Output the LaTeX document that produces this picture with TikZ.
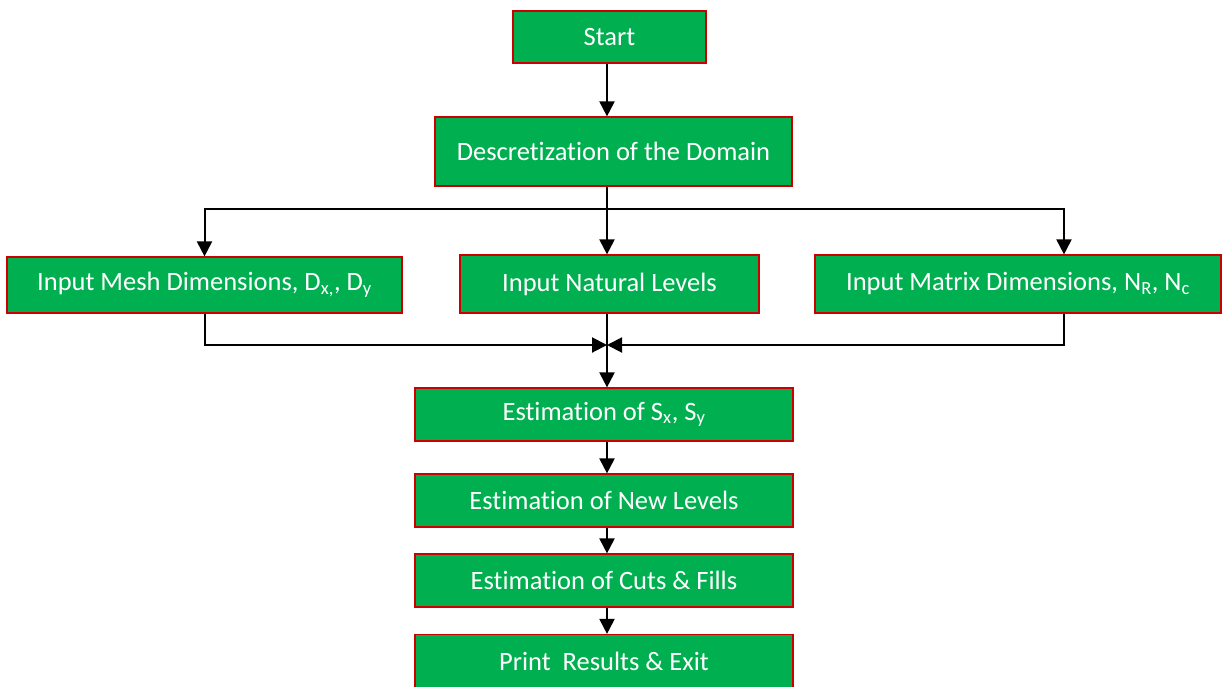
\documentclass[tikz,border=0pt]{standalone}
\usepackage{fontspec}
\setmainfont{Carlito}[Ligatures=CommonOff]
\usetikzlibrary{arrows.meta}
\definecolor{boxgreen}{RGB}{0,176,80}
\definecolor{boxred}{RGB}{204,0,0}
\tikzset{
  box/.style={draw=boxred, line width=1.2pt, fill=boxgreen, text=white,
    font=\fontsize{26.5}{30}\selectfont, inner sep=0pt},
  arr/.style={line width=2pt, -{Triangle[width=15pt,length=15pt]}},
  line/.style={line width=2pt}
}
\begin{document}
\begin{tikzpicture}[x=1pt,y=-1pt]
\useasboundingbox (0,0) rectangle (1222,686);
\node[box, minimum width=193pt, minimum height=52pt] (start) at (609.5,37) {Start};
\node[box, minimum width=357pt, minimum height=69pt] (disc) at (613.5,151.5) {Descretization of the Domain};
\node[box, minimum width=395pt, minimum height=56pt] (mesh) at (204.5,285) {Input Mesh Dimensions, D\textsubscript{x,}, D\textsubscript{y}};
\node[box, minimum width=299pt, minimum height=58pt] (natural) at (609.5,284) {Input Natural Levels};
\node[box, minimum width=406pt, minimum height=58pt] (matrix) at (1018,284) {Input Matrix Dimensions, N\textsubscript{R}, N\textsubscript{c}};
\node[box, minimum width=378pt, minimum height=53pt] (sx) at (604,414.5) {Estimation of S\textsubscript{x}, S\textsubscript{y}};
\node[box, minimum width=378pt, minimum height=53pt] (newlev) at (604,500.5) {Estimation of New Levels};
\node[box, minimum width=378pt, minimum height=53pt] (cuts) at (604,580.5) {Estimation of Cuts \& Fills};
\node[box, minimum width=378pt, minimum height=53pt] (print) at (604,661) {Print\ \ Results \& Exit};
\coordinate (split) at (607,209);
\coordinate (join) at (607,345);
% top part
\draw[arr] (start.south -| split) -- (disc.north -| split);
\draw[line] (disc.south -| split) -- (split);
\draw[arr] (split) -| (mesh.north);
\draw[arr] (split) -- (natural.north -| split);
\draw[arr] (split) -| ([xshift=46pt]matrix.north);
% merge
\draw[arr] (mesh.south) |- (join);
\draw[arr] ([xshift=46pt]matrix.south) |- (join);
\draw[line] (natural.south -| join) -- (join);
\draw[arr] (join) -- (sx.north -| join);
% lower chain
\draw[arr] (sx.south -| join) -- (newlev.north -| join);
\draw[arr] (newlev.south -| join) -- (cuts.north -| join);
\draw[arr] (cuts.south -| join) -- (print.north -| join);
\end{tikzpicture}
\end{document}
